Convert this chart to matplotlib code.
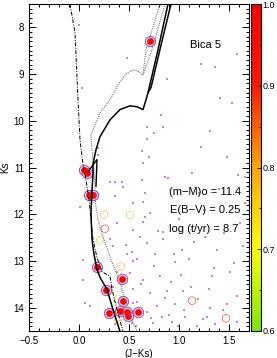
import numpy as np
import matplotlib
matplotlib.use('Agg')
import matplotlib.pyplot as plt
from matplotlib.colors import LinearSegmentedColormap, Normalize
from matplotlib.ticker import MultipleLocator

plt.rcParams['font.family'] = ['Liberation Sans', 'DejaVu Sans']

# isochrones (J-Ks, Ks)
iso_solid_x = [0.41, 0.34, 0.28, 0.21, 0.18, 0.15, 0.13, 0.12, 0.13, 0.14, 0.14, 0.17, 0.21, 0.31,
               0.41, 0.51, 0.58, 0.64, 0.67, 0.69, 0.79, 0.89]
iso_solid_y = [14.51, 14.04, 13.61, 13.35, 13.18, 12.86, 12.54, 11.97, 11.47, 11.15, 10.92, 10.62, 10.34, 9.98,
               9.76, 9.68, 9.70, 9.76, 9.55, 9.40, 8.48, 7.50]
hook_x = [0.09, 0.18, 0.17]
hook_y = [11.09, 10.83, 11.40]
rgb2_x = [0.69, 0.72, 0.82, 0.92]
rgb2_y = [9.40, 9.29, 8.38, 7.50]

iso_dot_x = [0.58, 0.51, 0.41, 0.31, 0.25, 0.19, 0.16, 0.16, 0.15, 0.13, 0.12, 0.16, 0.21, 0.31,
             0.39, 0.47, 0.54, 0.60, 0.64, 0.67, 0.81]
iso_dot_y = [14.49, 14.19, 13.46, 12.91, 12.54, 12.12, 11.69, 11.37, 11.05, 10.62, 10.30, 10.09, 9.83, 9.55,
             9.23, 9.00, 8.91, 8.95, 9.02, 8.48, 7.50]
dot2_x = [0.64, 0.73, 0.86]
dot2_y = [9.02, 8.48, 7.50]

iso_dd_x = [-0.09, -0.04, -0.01, 0.01, 0.04, 0.07, 0.10, 0.12, 0.14, 0.18, 0.23, 0.31, 0.33, 0.38, 0.44]
iso_dd_y = [7.50, 8.12, 9.55, 10.41, 10.94, 11.26, 11.69, 12.12, 12.54, 12.93, 13.23, 13.33, 13.61, 14.04, 14.51]

# high-probability members
mem_x = [0.71, 0.05, 0.08, 0.10, 0.14, 0.18, 0.27, 0.43, 0.44, 0.30, 0.41, 0.48, 0.49, 0.59]
mem_y = [8.29, 11.05, 11.11, 11.58, 11.58, 13.13, 13.63, 13.38, 13.85, 14.11, 14.07, 14.09, 14.18, 14.09]

# lower-probability stars
low_x = [0.25, 0.51, 0.26, 0.21, 0.42, 0.39, 0.39, 1.13, 1.47]
low_y = [12.01, 12.02, 12.31, 12.56, 13.12, 13.82, 14.25, 13.85, 14.23]
low_p = [0.80, 0.62, 0.95, 0.62, 0.80, 0.63, 0.78, 0.95, 0.95]

# field stars
fld_x = [0.00, 0.48, 0.03, 0.19, 0.19, 1.58, 1.22, 1.36, 0.88, 1.41, 1.53, 0.82, 0.68, 0.84, 1.31,
         0.75, 0.68, 1.22, 0.63, 0.70, 0.64, 1.13, 0.89, 1.59, 1.48, 0.36, 0.43, 0.61, 0.68, 0.84,
         1.26, 1.64, 0.54, 0.76, 0.96, 1.03, 1.38, 1.33, 1.51, 0.64, 0.81, 0.58, 0.71, 0.88, 1.04,
         0.78, 0.96, 1.19, 1.31, 1.48, 1.58, 0.83, 0.93, 1.06, 1.28, 1.36, 1.58, 0.68, 0.74, 1.18,
         0.99, 0.63, 0.86, 0.64, 0.71, 0.64, 0.84, 1.66, 1.66, 1.61, 0.34, 0.48, 0.51, 0.38, 0.34,
         0.54, 0.54, 0.11, 0.36, 0.53, 0.04, 0.04, 0.31, 0.36, 0.44, 0.54, 0.38, 0.54, 0.31, 0.53,
         0.01, 0.06, 1.10, 1.45, 0.92, 1.20, 1.00, 0.75, 1.55, 1.25, 0.58, 0.66, 1.40, 1.12, 0.95,
         0.72, 1.05, 1.30, 0.62, 0.90, 1.44, 0.47, 0.86, 1.15, 0.57, 1.35, 0.79, 1.02, 0.66, 1.24]
fld_y = [7.95, 8.65, 9.30, 10.58, 10.73, 8.57, 8.78, 8.85, 9.10, 9.51, 9.62, 9.87, 10.13, 10.13, 10.21,
         10.26, 10.39, 10.56, 10.64, 10.77, 10.90, 11.11, 11.22, 11.15, 10.77, 11.32, 11.32, 12.48, 12.61, 12.54,
         12.48, 12.69, 13.01, 12.86, 13.03, 12.76, 12.76, 13.33, 13.23, 13.40, 13.33, 13.87, 13.68, 13.65, 13.65,
         13.97, 13.93, 13.82, 14.00, 13.93, 13.76, 14.19, 14.30, 14.21, 14.19, 14.36, 14.30, 14.10, 14.32, 14.40,
         14.40, 11.26, 11.20, 11.73, 11.97, 12.16, 12.39, 11.20, 11.75, 12.18, 12.69, 12.86, 13.25, 13.23, 13.55,
         13.61, 13.89, 13.97, 14.36, 14.32, 12.97, 13.40, 11.32, 11.62, 11.41, 11.75, 12.18, 12.33, 12.54, 12.80,
         11.84, 13.89, 12.95, 12.40, 13.45, 11.55, 12.10, 13.10, 13.05, 11.90, 12.95, 11.55, 11.45, 13.55, 12.85,
         14.22, 14.05, 13.60, 13.50, 14.15, 14.05, 12.65, 13.80, 12.60, 14.40, 13.15, 12.35, 13.30, 12.05, 14.25]

cmap = LinearSegmentedColormap.from_list('prob', [(0.0, (0.5, 0.9, 0.0)), (0.25, (1, 1, 0)),
                                                  (0.5, (1, 0.65, 0)), (0.75, (1, 0.1, 0)),
                                                  (1.0, (1, 0, 0))])
norm = Normalize(0.6, 1.0)

fig = plt.figure(figsize=(2.77, 3.58), dpi=100)
ax = fig.add_axes([29 / 277, 1 - 331 / 358, 220 / 277, 327 / 358])
cax = fig.add_axes([251 / 277, 1 - 331 / 358, 10 / 277, 327 / 358])

ax.scatter(fld_x, fld_y, s=0.7, marker='s', color='#c088c8', linewidths=0)

ax.plot(iso_dot_x, iso_dot_y, color='0.45', lw=0.8, ls=(0, (1, 1)))
ax.plot(dot2_x, dot2_y, color='0.45', lw=0.8, ls=(0, (1, 1)))
ax.plot(iso_dd_x, iso_dd_y, color='k', lw=0.7, ls=(0, (4, 1.5, 1, 1.5)))
ax.plot(iso_solid_x, iso_solid_y, color='k', lw=1.1)
ax.plot(hook_x, hook_y, color='k', lw=1.0)
ax.plot(rgb2_x, rgb2_y, color='k', lw=1.1)

ax.scatter(low_x, low_y, s=30, facecolors='none', edgecolors=cmap(norm(np.array(low_p))),
           linewidths=0.5, alpha=0.75)
ax.scatter(mem_x, mem_y, s=55, facecolors='#f0d0f0', edgecolors='#9050b0', linewidths=0.7)
ax.scatter(mem_x, mem_y, s=24, color='red', linewidths=0)

ax.text(1.11, 8.37, 'Bica 5', fontsize=8, va='center')
ax.text(0.90, 11.52, '(m\u2212M)o = 11.4', fontsize=8, va='center')
ax.text(0.91, 11.92, 'E(B\u2212V) = 0.25', fontsize=8, va='center')
ax.text(0.90, 12.31, 'log (t/yr) = 8.7', fontsize=8, va='center')

ax.set_xlim(-0.5, 1.7)
ax.set_ylim(14.5, 7.5)
ax.xaxis.set_major_locator(MultipleLocator(0.5))
ax.xaxis.set_minor_locator(MultipleLocator(0.1))
ax.yaxis.set_major_locator(MultipleLocator(1))
ax.yaxis.set_minor_locator(MultipleLocator(0.1))
ax.tick_params(which='both', direction='in', top=True, right=True, labelsize=7, width=0.7)
ax.tick_params(which='major', length=5)
ax.tick_params(which='minor', length=2.5)
ax.set_xlabel('(J\u2212Ks)', fontsize=7, labelpad=2)
ax.set_ylabel('Ks', fontsize=7, labelpad=2)
for s in ax.spines.values():
    s.set_linewidth(0.8)

sm = plt.cm.ScalarMappable(norm=norm, cmap=cmap)
cb = fig.colorbar(sm, cax=cax)
cb.set_ticks([0.6, 0.7, 0.8, 0.9, 1.0])
cb.ax.yaxis.set_minor_locator(MultipleLocator(0.05))
cb.ax.tick_params(which='both', direction='in', labelsize=6.5, width=0.6, pad=1)
cb.ax.tick_params(which='major', length=3)
cb.ax.tick_params(which='minor', length=1.5)
cb.outline.set_linewidth(0.8)

fig.savefig('out.png', dpi=100)
